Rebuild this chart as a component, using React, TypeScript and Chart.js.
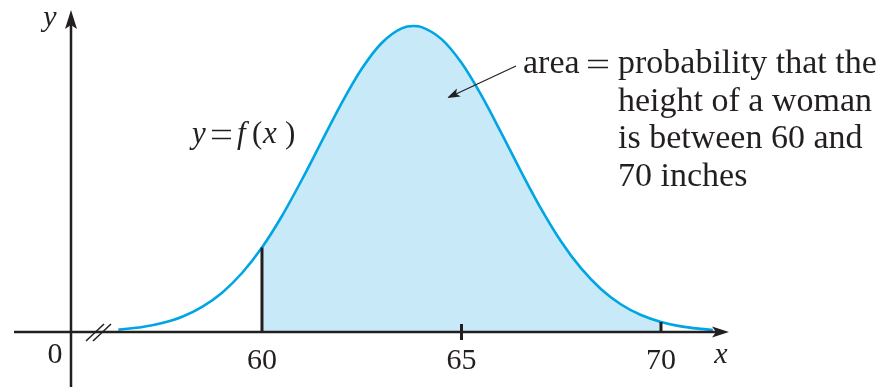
import React, { useEffect, useRef } from "react";
import { Chart, registerables } from "chart.js";

Chart.register(...registerables);

// Height x (inches) and density f(x)
const heights = [56.4, 56.5, 57, 57.5, 58, 58.5, 59, 59.5, 60, 60.5, 61, 61.5, 62, 62.5, 63, 63.5, 63.8, 64, 64.5, 65, 65.5, 66, 66.5, 67, 67.5, 68, 68.5, 69, 69.5, 70, 70.5, 71, 71.3];
const density = [0.0013, 0.0015, 0.0027, 0.0049, 0.0084, 0.0138, 0.0216, 0.0324, 0.0464, 0.0637, 0.0836, 0.1048, 0.1258, 0.1445, 0.1587, 0.1667, 0.168, 0.1674, 0.1608, 0.1478, 0.1299, 0.1092, 0.0878, 0.0675, 0.0496, 0.0349, 0.0235, 0.0151, 0.0093, 0.0055, 0.0031, 0.0017, 0.0011];
const tickValues = [60, 65, 70];
const tickLabels = ["60", "65", "70"];
const shadeFrom = 60;
const shadeTo = 70;
const annotationLines = ["probability that the", "height of a woman", "is between 60 and", "70 inches"];

const INK = "#231f20";
const CURVE = "#00a5e3";
const FILL = "#c7e9f8";
const SERIF = "'Liberation Serif', 'Times New Roman', serif";

const curvePoints = heights.map((x, i) => ({ x, y: density[i] }));
const shadePoints = curvePoints.filter((p) => p.x >= shadeFrom && p.x <= shadeTo);

function arrowHead(ctx: CanvasRenderingContext2D, tx: number, ty: number, dx: number, dy: number, len: number, half: number, notch: number) {
  const px = -dy, py = dx;
  ctx.beginPath();
  ctx.moveTo(tx, ty);
  ctx.lineTo(tx - dx * len + px * half, ty - dy * len + py * half);
  ctx.lineTo(tx - dx * (len - notch), ty - dy * (len - notch));
  ctx.lineTo(tx - dx * len - px * half, ty - dy * len - py * half);
  ctx.closePath();
  ctx.fill();
}

const decorPlugin = {
  id: "decor",
  afterDraw(chart: any) {
    const ctx: CanvasRenderingContext2D = chart.ctx;
    const xs = chart.scales.x;
    const ys = chart.scales.y;
    const y0 = ys.getPixelForValue(0);
    const axisX = 71;
    ctx.save();
    ctx.strokeStyle = INK;
    ctx.fillStyle = INK;
    ctx.lineCap = "butt";

    // x axis
    ctx.lineWidth = 2.5;
    ctx.beginPath();
    ctx.moveTo(14, y0);
    ctx.lineTo(718, y0);
    ctx.stroke();
    arrowHead(ctx, 729, y0, 1, 0, 17, 5.5, 4);

    // y axis
    ctx.beginPath();
    ctx.moveTo(axisX, 387);
    ctx.lineTo(axisX, 22);
    ctx.stroke();
    arrowHead(ctx, axisX, 10, 0, -1, 19, 6, 4);

    // axis break marks
    ctx.lineWidth = 1.5;
    for (const off of [0, 7]) {
      ctx.beginPath();
      ctx.moveTo(86 + off, 341);
      ctx.lineTo(104 + off, 324);
      ctx.stroke();
    }

    // vertical lines at shade bounds and the middle tick
    ctx.lineWidth = 3;
    const yAt = (v: number) => density[heights.indexOf(v)];
    for (const v of [shadeFrom, shadeTo]) {
      const px = xs.getPixelForValue(v);
      ctx.beginPath();
      ctx.moveTo(px, y0);
      ctx.lineTo(px, ys.getPixelForValue(yAt(v)));
      ctx.stroke();
    }
    const mid = xs.getPixelForValue(tickValues[1]);
    ctx.beginPath();
    ctx.moveTo(mid, y0 - 8);
    ctx.lineTo(mid, y0 + 8);
    ctx.stroke();

    // tick labels
    ctx.font = `30px ${SERIF}`;
    ctx.textAlign = "center";
    ctx.textBaseline = "alphabetic";
    tickValues.forEach((v, i) => {
      ctx.fillText(tickLabels[i], xs.getPixelForValue(v), 369);
    });
    ctx.fillText("0", 55, 363);

    // axis names
    ctx.font = `italic 30px ${SERIF}`;
    ctx.fillText("x", 721, 363);
    ctx.fillText("y", 50, 26);

    // y = f(x)
    ctx.textAlign = "left";
    ctx.font = `italic 31px ${SERIF}`;
    ctx.fillText("y", 192, 143);
    ctx.lineWidth = 1.7;
    ctx.beginPath();
    ctx.moveTo(212, 130.5); ctx.lineTo(231, 130.5);
    ctx.moveTo(212, 138.5); ctx.lineTo(231, 138.5);
    ctx.stroke();
    ctx.fillText("f", 237, 143);
    ctx.font = `31px ${SERIF}`;
    ctx.fillText("(", 252, 143);
    ctx.font = `italic 31px ${SERIF}`;
    ctx.fillText("x", 263, 143);
    ctx.font = `31px ${SERIF}`;
    ctx.fillText(")", 285, 143);

    // annotation
    ctx.font = `34px ${SERIF}`;
    ctx.fillText("area", 523, 73);
    ctx.lineWidth = 1.6;
    ctx.beginPath();
    ctx.moveTo(588, 60.5); ctx.lineTo(608, 60.5);
    ctx.moveTo(588, 67.5); ctx.lineTo(608, 67.5);
    ctx.stroke();
    annotationLines.forEach((t, i) => {
      ctx.fillText(t, 618, 73 + i * 37.5);
    });

    // pointer arrow
    ctx.lineWidth = 1.2;
    ctx.beginPath();
    ctx.moveTo(516, 66);
    ctx.lineTo(456, 94);
    ctx.stroke();
    const dx = 447 - 516, dy = 98 - 66;
    const L = Math.hypot(dx, dy);
    arrowHead(ctx, 447, 98, dx / L, dy / L, 13, 4.5, 3);

    ctx.restore();
  },
};

export default function App() {
  const ref = useRef<HTMLCanvasElement>(null);
  useEffect(() => {
    if (!ref.current) return;
    const chart = new Chart(ref.current, {
      type: "line",
      data: {
        datasets: [
          {
            data: curvePoints,
            borderColor: CURVE,
            borderWidth: 2.6,
            pointRadius: 0,
            fill: false,
            cubicInterpolationMode: "monotone",
            order: 1,
          },
          {
            data: shadePoints,
            borderWidth: 0,
            borderColor: "rgba(0,0,0,0)",
            backgroundColor: FILL,
            pointRadius: 0,
            fill: "origin",
            cubicInterpolationMode: "monotone",
            order: 2,
          },
        ],
      },
      options: {
        animation: false,
        responsive: false,
        maintainAspectRatio: false,
        layout: { padding: 0 },
        plugins: { legend: { display: false }, tooltip: { enabled: false } },
        scales: {
          x: { type: "linear", display: false, min: 53.434, max: 75.865 },
          y: { type: "linear", display: false, min: -0.0302, max: 0.1823 },
        },
      },
      plugins: [decorPlugin],
    } as any);
    return () => chart.destroy();
  }, []);
  return (
    <div style={{ position: "absolute", left: 0, top: 0, width: 895, height: 387, background: "#fff" }}>
      <canvas ref={ref} width={895} height={387} style={{ width: 895, height: 387, display: "block" }} />
    </div>
  );
}
